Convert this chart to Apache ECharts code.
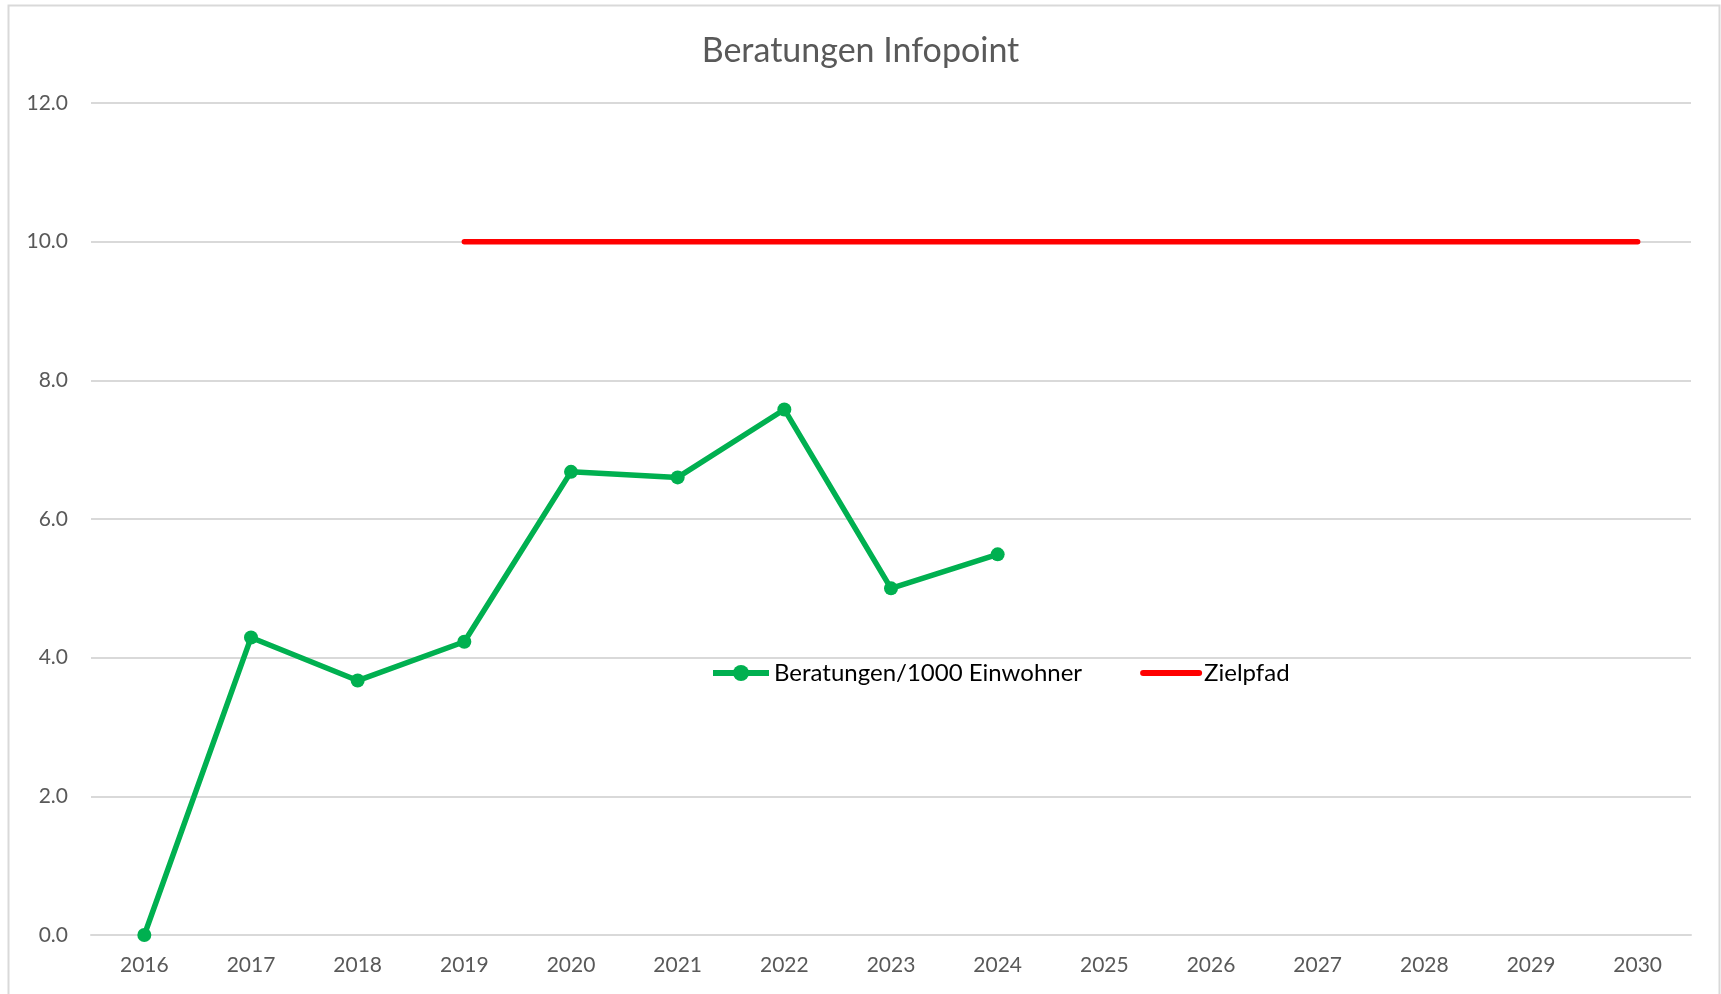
<!DOCTYPE html>
<html>
<head>
<meta charset="utf-8">
<title>Beratungen Infopoint</title>
<style>
  html, body { margin: 0; padding: 0; background: #fff; }
  #chart { width: 1721px; height: 994px; }
</style>
</head>
<body>
<div id="chart"></div>
<script src="https://cdn.jsdelivr.net/npm/echarts@6/dist/echarts.min.js"></script>
<script>
// Jahre auf der x-Achse
var years = ['2016','2017','2018','2019','2020','2021','2022','2023','2024','2025','2026','2027','2028','2029','2030'];
// Beratungen je 1000 Einwohner (ab 2025 noch keine Werte)
var beratungen = [0.0, 4.29, 3.67, 4.23, 6.68, 6.60, 7.58, 5.00, 5.49, null, null, null, null, null, null];
// Zielpfad: 10 ab 2019
var zielpfad = [null, null, null, 10, 10, 10, 10, 10, 10, 10, 10, 10, 10, 10, 10];

var FONT = 'Lato, "Open Sans", sans-serif';
var myChart = echarts.init(document.getElementById('chart'));

var option = {
    backgroundColor: '#fff',
    animation: false,
    title: {
        text: 'Beratungen Infopoint',
        left: 'center',
        top: 29,
        textStyle: { fontFamily: FONT, fontSize: 34, fontWeight: 'normal', color: '#595959' }
    },
    graphic: [{
        type: 'rect',
        shape: { x: 8.5, y: 5.5, width: 1711, height: 1010 },
        style: { fill: 'none', stroke: '#d9d9d9', lineWidth: 2 },
        silent: true
    }],
    legend: {
        left: 705,
        top: 656,
        itemWidth: 56,
        itemHeight: 20,
        itemGap: 58,
        lineStyle: { width: 6 },
        textStyle: { fontFamily: FONT, fontSize: 24, color: '#000' },
        data: [
            { name: 'Beratungen/1000 Einwohner' },
            { name: 'Zielpfad', itemStyle: { opacity: 0 } }
        ]
    },
    grid: { left: 91, right: 30, top: 103, bottom: 59 },
    xAxis: {
        type: 'category',
        data: years,
        boundaryGap: true,
        axisLine: { show: true, lineStyle: { color: '#d9d9d9', width: 2 } },
        axisTick: { show: false },
        axisLabel: { fontFamily: FONT, fontSize: 21, color: '#595959', margin: 20 }
    },
    yAxis: {
        type: 'value',
        min: 0,
        max: 12,
        interval: 2,
        axisLine: { show: false },
        axisTick: { show: false },
        splitLine: { lineStyle: { color: '#d9d9d9', width: 2 } },
        axisLabel: {
            fontFamily: FONT, fontSize: 21, color: '#595959', margin: 23,
            formatter: function (v) { return v.toFixed(1); }
        }
    },
    series: [
        {
            name: 'Beratungen/1000 Einwohner',
            type: 'line',
            data: beratungen,
            symbol: 'circle',
            symbolSize: 14,
            color: '#00b050',
            lineStyle: { width: 5.5, color: '#00b050' },
            itemStyle: { color: '#00b050' }
        },
        {
            name: 'Zielpfad',
            type: 'line',
            data: zielpfad,
            symbol: 'none',
            color: '#ff0000',
            lineStyle: { width: 5.5, color: '#ff0000', cap: 'round' }
        }
    ]
};
myChart.setOption(option);
</script>
</body>
</html>
